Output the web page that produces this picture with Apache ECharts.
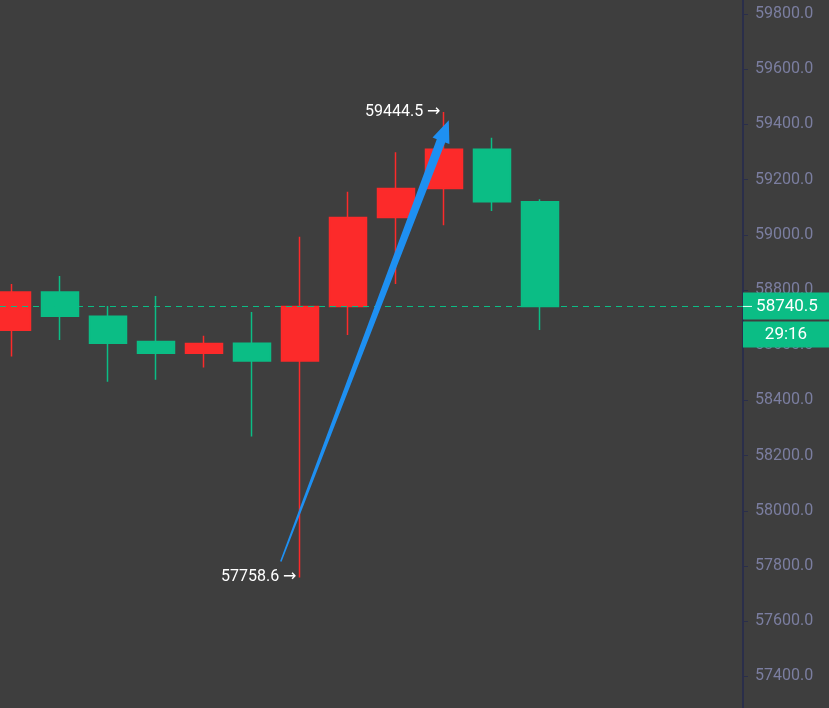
<!DOCTYPE html>
<html><head><meta charset="utf-8">
<script src="https://cdn.jsdelivr.net/npm/echarts@6/dist/echarts.min.js"></script>
<style>html,body{margin:0;padding:0;background:#3e3e3e}#c{width:829px;height:708px}</style>
</head><body><div id="c"></div>
<script>
// ---- data ----
const xIndex = [0, 1, 2, 3, 4, 5, 6, 7, 8, 9, 10, 11];
const opens  = [58654, 58793, 58705, 58613, 58571, 58607, 58543, 58740, 59063, 59168, 59310, 59120];
const closes = [58793, 58705, 58607, 58571, 58606, 58543, 58740, 59063, 59168, 59310, 59120, 58740.5];
const lows   = [58559, 58619, 58468, 58475, 58519, 58269, 57758.6, 58637, 58822, 59035, 59086, 58655];
const highs  = [58822, 58851, 58742, 58778, 58634, 58720, 58993, 59156, 59299, 59444.5, 59352, 59129];
const lastPrice = 58740.5;
const timerText = '29:16';
const lowMark = { idx: 6, value: 57758.6, text: '57758.6 →' };
const highMark = { idx: 9, value: 59444.5, text: '59444.5 →' };
const arrowFrom = [5.6, 57816];
const arrowTo = [9.1, 59415];
const yMin = 57200, yMax = 60000, yStep = 200;

const RED = '#fc2a2a', GREEN = '#0bbd85', BLUE = '#1e90f2';
const FONT = 'Roboto, "DejaVu Sans", sans-serif';

const source = xIndex.map((x, i) => [x, opens[i], closes[i], lows[i], highs[i]]);

const chart = echarts.init(document.getElementById('c'));
chart.setOption({
  backgroundColor: '#3e3e3e',
  animation: false,
  grid: { left: 0, right: 86, top: -41.2, bottom: -23.6, outerBoundsMode: 'none', containLabel: false },
  xAxis: {
    type: 'value', min: -0.25, max: 15.229,
    axisLine: { show: false, onZero: false }, axisTick: { show: false }, axisLabel: { show: false }, splitLine: { show: false }
  },
  yAxis: {
    type: 'value', position: 'right', min: yMin, max: yMax, interval: yStep,
    axisLine: { show: true, onZero: false, lineStyle: { color: '#2a2e4a', width: 2 } },
    axisTick: { show: true, length: 5, lineStyle: { color: '#2a2e4a', width: 1 } },
    axisLabel: { color: '#7b7ea0', fontSize: 16, fontFamily: FONT, margin: 12,
      formatter: v => v.toFixed(1) },
    splitLine: { show: false }
  },
  dataset: { dimensions: ['x', 'open', 'close', 'low', 'high'], source: source },
  series: [{
    type: 'candlestick',
    encode: { x: 'x', y: ['open', 'close', 'low', 'high'] },
    barWidth: 37,
    itemStyle: { color: RED, color0: GREEN, borderColor: RED, borderColor0: GREEN, borderWidth: 1.5 },
    markLine: {
      silent: true, symbol: ['none', 'none'],
      label: { show: false },
      lineStyle: { color: GREEN, type: [6, 5], width: 1 },
      data: [{ yAxis: lastPrice }]
    },
    markPoint: {
      silent: true, symbol: 'circle', symbolSize: 1,
      itemStyle: { color: 'rgba(0,0,0,0)' },
      label: { show: true, position: 'left', distance: 3, color: '#ffffff', fontSize: 16, fontFamily: FONT, formatter: '{b}' },
      data: [
        { name: lowMark.text, coord: [lowMark.idx, lowMark.value] },
        { name: highMark.text, coord: [highMark.idx, highMark.value] }
      ]
    }
  }]
});

// annotations positioned through the chart's own scales
const S = chart.convertToPixel({ gridIndex: 0 }, arrowFrom);
const T = chart.convertToPixel({ gridIndex: 0 }, arrowTo);
const dx = T[0] - S[0], dy = T[1] - S[1];
const len = Math.hypot(dx, dy);
const ux = dx / len, uy = dy / len;
const nx = -uy, ny = ux;
const headLen = 22, headHalf = 9;
const B = [T[0] - ux * headLen, T[1] - uy * headLen];
const P = (p, k) => [p[0] + nx * k, p[1] + ny * k];
const arrowPts = [P(S, 0.8), P(B, 4.5), P(B, headHalf), T, P(B, -headHalf), P(B, -4.5), P(S, -0.8)];

const py = chart.convertToPixel({ yAxisIndex: 0 }, lastPrice);
const axisX = 743;
chart.setOption({
  graphic: [
    { type: 'polygon', z: 50, shape: { points: arrowPts }, style: { fill: BLUE } },
    { type: 'rect', z: 100, shape: { x: axisX, y: py - 14, width: 86, height: 27 }, style: { fill: GREEN } },
    { type: 'line', z: 101, shape: { x1: axisX, y1: py, x2: axisX + 9, y2: py }, style: { stroke: '#e8fff6', lineWidth: 1 } },
    { type: 'text', z: 101, x: 787, y: py, style: { text: lastPrice.toFixed(1), fill: '#ffffff', font: '17px ' + FONT, align: 'center', verticalAlign: 'middle' } },
    { type: 'rect', z: 100, shape: { x: axisX, y: py + 15, width: 86, height: 26 }, style: { fill: GREEN } },
    { type: 'text', z: 101, x: 786, y: py + 28, style: { text: timerText, fill: '#ffffff', font: '17px ' + FONT, align: 'center', verticalAlign: 'middle' } }
  ]
});
</script>
</body></html>
